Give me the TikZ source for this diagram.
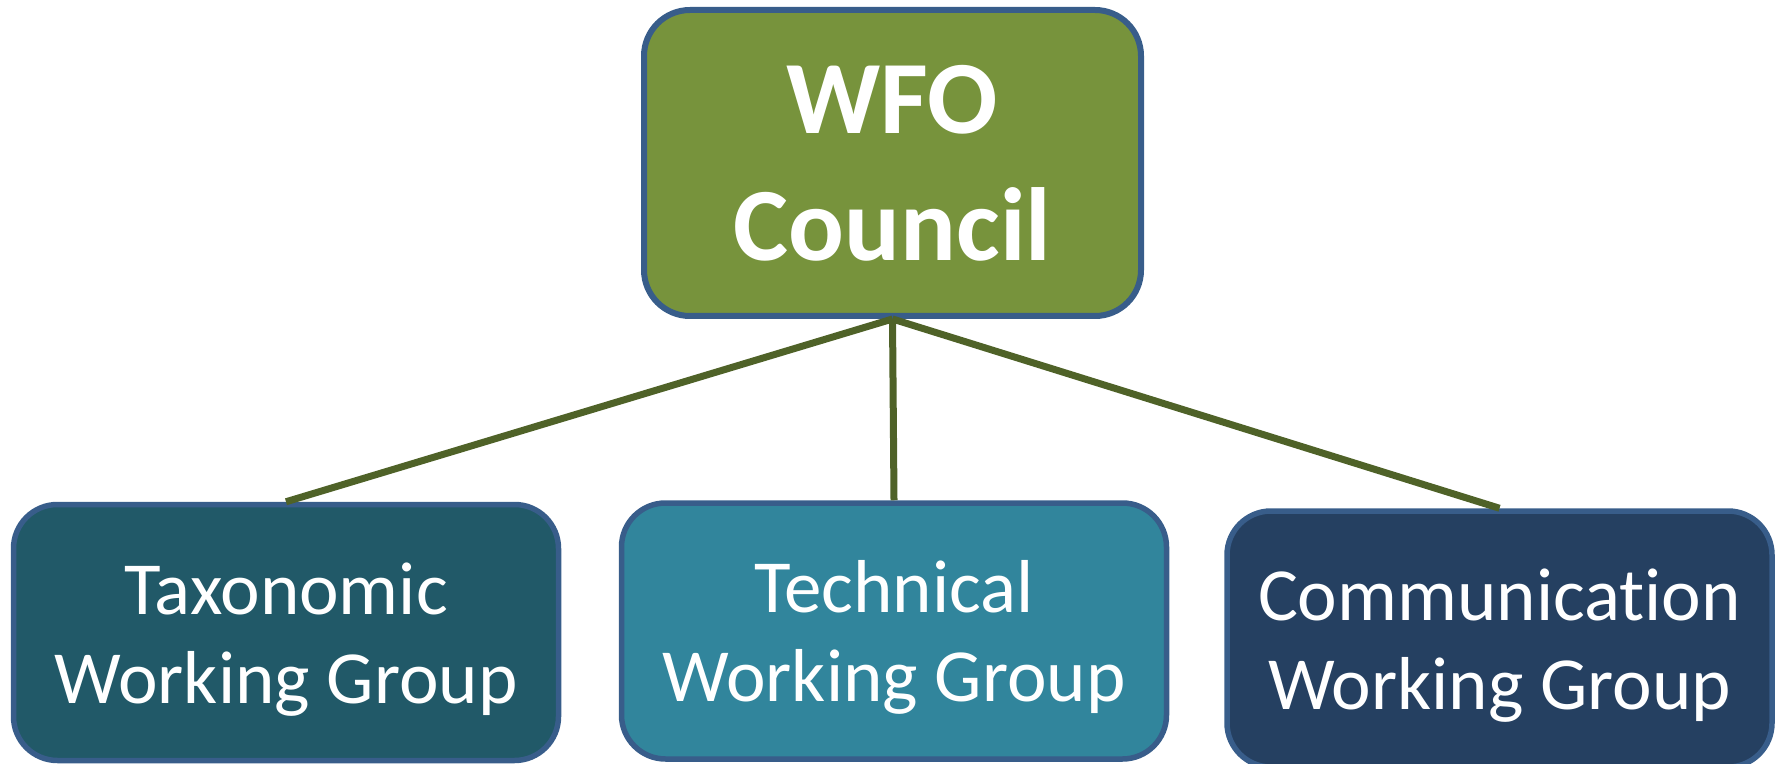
\documentclass[tikz,border=0pt]{standalone}
\usepackage{fontspec}
\setmainfont{Carlito}[Ligatures={NoCommon}]
\usetikzlibrary{%
  arrows,%
  shapes,%
  positioning,% wg. " of "
  calc
}

\definecolor{councilgreen}{HTML}{77933C}
\definecolor{boxline}{HTML}{385D8A}
\definecolor{taxteal}{HTML}{215968}
\definecolor{techteal}{HTML}{31859C}
\definecolor{commblue}{HTML}{254061}
\definecolor{linkgreen}{HTML}{4F6228}

% two lines, fixed height and depth
\newcommand{\wgtext}[1]{\rule{0pt}{36pt}#1\\Working Group\rule[-10pt]{0pt}{10pt}}

\begin{document}
\begin{tikzpicture}
  [
  x=0.5pt, y=-0.5pt, line width=2.75pt,
  councilnode/.style={rectangle, rounded corners=23pt, draw=boxline, line width=3pt, fill=councilgreen, text=white, align=center,
    minimum width=248.5pt, minimum height=153pt, inner sep=0pt, font=\bfseries\fontsize{52}{63.5}\selectfont},
  groupnode/.style={rectangle, rounded corners=22pt, draw=boxline, text=white, align=center,
    minimum width=272.5pt, minimum height=128pt, inner sep=0pt, font=\fontsize{37.5}{44.5}\selectfont},
  link/.style={draw=linkgreen, line width=3.5pt},
  ]

  \useasboundingbox (0,0) rectangle (1781,764);

  \node[councilnode] (council) at (892.5,163) {WFO\\Council};

  \node[groupnode, fill=taxteal]  (wg1) at (286,632.5)  {\wgtext{Taxonomic}};
  \node[groupnode, fill=techteal] (wg2) at (894,631)    {\wgtext{Technical}};
  \node[groupnode, fill=commblue] (wg3) at (1499.5,639) {\wgtext{Communication}};

  \foreach \g in {1,2,3} {
    \draw[link] (council.south) -- (wg\g.north);
  }

\end{tikzpicture}
\end{document}
